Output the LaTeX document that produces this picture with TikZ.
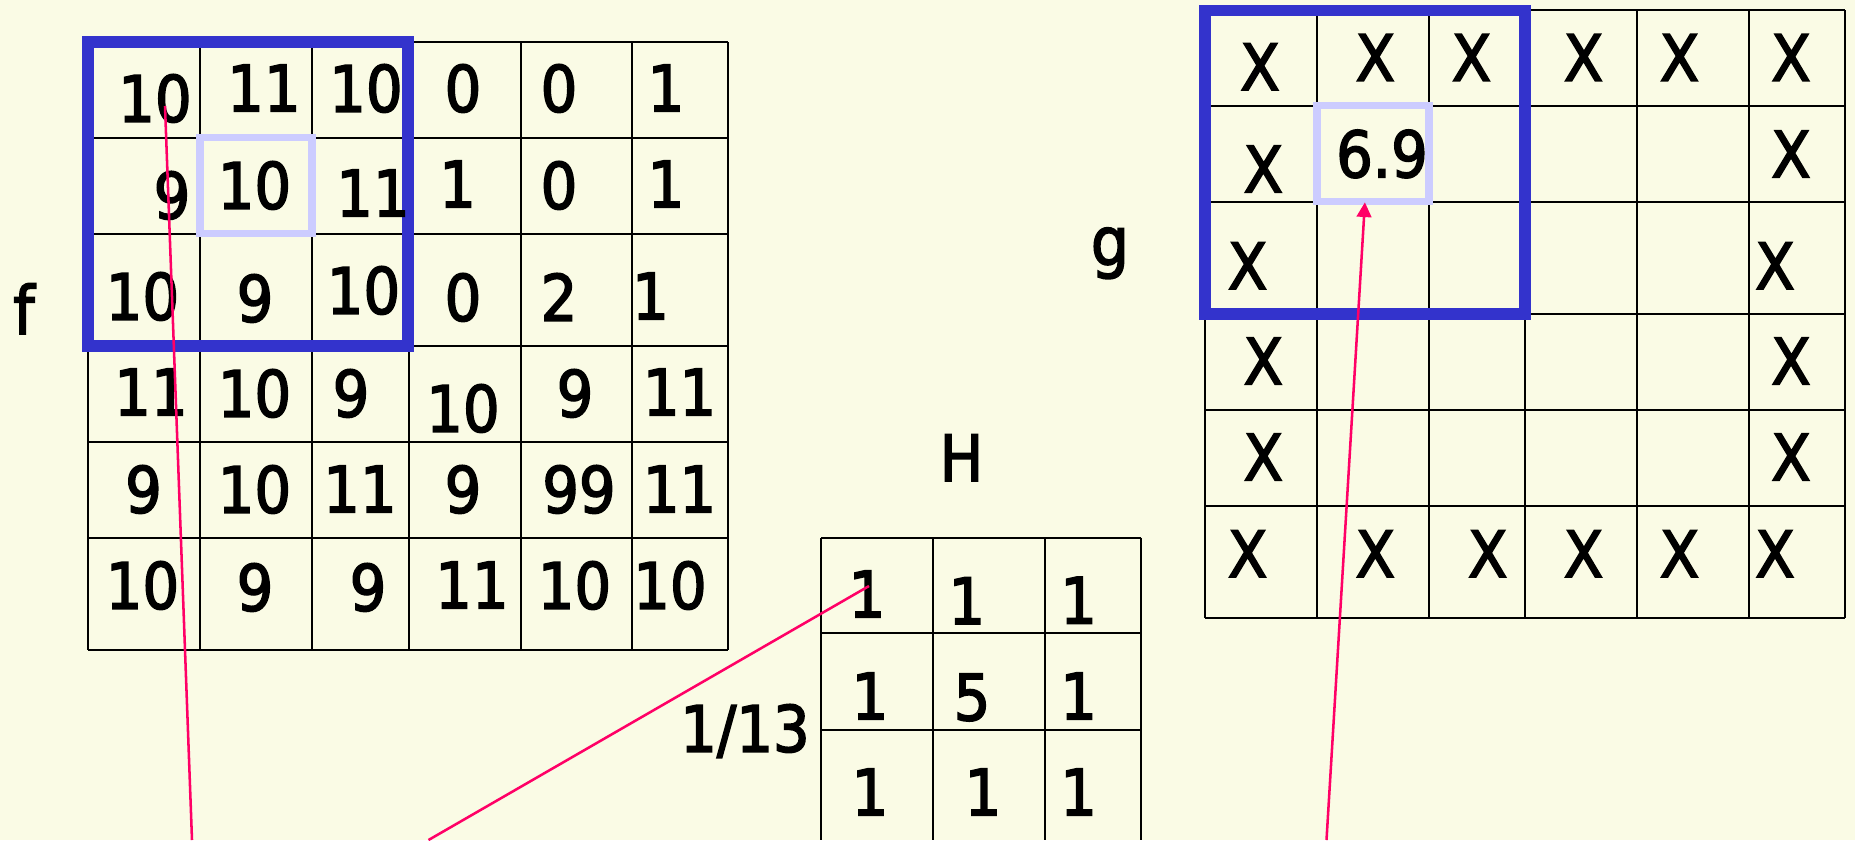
\documentclass[tikz,border=0pt]{standalone}
\usepackage{fontspec}
\setmainfont{DejaVu Sans}[FakeStretch=0.9,FakeBold=2.5]
\usetikzlibrary{arrows.meta}
\definecolor{bgy}{RGB}{250,251,229}
\definecolor{selblue}{RGB}{51,51,204}
\definecolor{lav}{RGB}{204,204,255}
\definecolor{pinkl}{RGB}{255,0,102}
\begin{document}
\begin{tikzpicture}[x=0.75pt,y=-0.75pt,
  cell/.style={font=\fontsize{48}{56}\selectfont, inner sep=0pt, text depth=0pt},
  lbl/.style={font=\fontsize{50}{56}\selectfont, inner sep=0pt},
  gridline/.style={line width=1.5pt, draw=black},
  selbox/.style={draw=selblue, line width=8.5pt},
  lavbox/.style={draw=lav, line width=5.5pt, outer sep=0pt, inner sep=0pt,
                 minimum width=84pt, minimum height=72pt},
  pinkline/.style={draw=pinkl, line width=1.9pt},
  pinkarrow/.style={pinkline, -{Triangle[length=11pt,width=11pt]}}]
\useasboundingbox (0,0) rectangle (1855,840);
\fill[bgy] (0,0) rectangle (1855,840);

% ---------- grid f ----------
\foreach \x in {88,200,312,408.5,520.5,632,728}
  \draw[gridline] (\x,42) -- (\x,649.5);
\foreach \y in {42,137.5,233.5,346,442,538,649.5}
  \draw[gridline] (88,\y) -- (728,\y);

% ---------- grid g ----------
\foreach \x in {1205,1317,1429,1525,1637,1749,1845}
  \draw[gridline] (\x,10.2) -- (\x,617.6);
\foreach \y in {10.2,105.7,201.6,313.9,409.8,505.7,617.6}
  \draw[gridline] (1205,\y) -- (1845,\y);

% ---------- grid H ----------
\foreach \x in {821.4,932.9,1045,1141}
  \draw[gridline] (\x,537.7) -- (\x,840);
\foreach \y in {537.7,633.3,730}
  \draw[gridline] (821.4,\y) -- (1141,\y);

% ---------- selection boxes ----------
\draw[selbox] (88,42) rectangle (408,346);
\draw[selbox] (1205,10.2) rectangle (1525,313.9);
\node[lavbox] (fsel) at (256,185.5) {};
\node[lavbox] (gsel) at (1372.9,153.65) {};

% ---------- labels ----------
\node[lbl, anchor=base] (flab) at (24,334) {f};
\node[lbl, anchor=base] (glab) at (1110,265) {g};
\node[cell] (hlab) at (961.5,457.7) {H};
\node[cell] (norm) at (745,728) {1/13};

% ---------- f values ----------
\node[cell] (f11) at (155,98) {10};
\node[cell] (f12) at (264,88) {11};
\node[cell] (f13) at (366,88) {10};
\node[cell] (f14) at (463,88) {0};
\node[cell] (f15) at (559,88) {0};
\node[cell] (f16) at (666,88) {1};
\node[cell] (f21) at (172,195) {9};
\node[cell] (f22) at (254.5,185) {10};
\node[cell] (f23) at (373,193) {11};
\node[cell] (f24) at (457.6,184) {1};
\node[cell] (f25) at (559,185) {0};
\node[cell] (f26) at (666,184) {1};
\node[cell] (f31) at (142.5,296) {10};
\node[cell] (f32) at (255,298) {9};
\node[cell] (f33) at (363.5,290) {10};
\node[cell] (f34) at (463,297) {0};
\node[cell] (f35) at (559,297) {2};
\node[cell] (f36) at (650.5,296) {1};
\node[cell] (f41) at (151,392) {11};
\node[cell] (f42) at (254.5,393) {10};
\node[cell] (f43) at (351,393) {9};
\node[cell] (f44) at (463,408) {10};
\node[cell] (f45) at (575,393) {9};
\node[cell] (f46) at (679.6,392) {11};
\node[cell] (f51) at (143.5,489) {9};
\node[cell] (f52) at (254.5,489) {10};
\node[cell] (f53) at (360,489) {11};
\node[cell] (f54) at (463,489) {9};
\node[cell] (f55) at (579,489) {99};
\node[cell] (f56) at (679.6,489) {11};
\node[cell] (f61) at (142.5,585) {10};
\node[cell] (f62) at (255,587) {9};
\node[cell] (f63) at (368,587) {9};
\node[cell] (f64) at (472,585) {11};
\node[cell] (f65) at (574.5,585) {10};
\node[cell] (f66) at (670,585) {10};

% ---------- g values ----------
\node[cell] (g11) at (1260,66.7) {X};
\node[cell] (g12) at (1375.3,57.6) {X};
\node[cell] (g13) at (1471.5,57.6) {X};
\node[cell] (g14) at (1583.5,57.6) {X};
\node[cell] (g15) at (1679.5,57.6) {X};
\node[cell] (g16) at (1791,57.6) {X};
\node[cell] (g21) at (1263.3,169) {X};
\node[cell] (g22) at (1382,153.5) {6.9};
\node[cell] (g26) at (1791,154) {X};
\node[cell] (g31) at (1247.6,265.7) {X};
\node[cell] (g36) at (1775,265.7) {X};
\node[cell] (g41) at (1263.3,361) {X};
\node[cell] (g46) at (1791,361) {X};
\node[cell] (g51) at (1263.3,457) {X};
\node[cell] (g56) at (1791,457) {X};
\node[cell] (g61) at (1247.6,553.7) {X};
\node[cell] (g62) at (1375.3,553.7) {X};
\node[cell] (g63) at (1487.7,553.7) {X};
\node[cell] (g64) at (1583.5,553.7) {X};
\node[cell] (g65) at (1679.5,553.7) {X};
\node[cell] (g66) at (1775,553.7) {X};

% ---------- H values ----------
\node[cell] (h11) at (867,594) {1};
\node[cell] (h12) at (966.8,600.7) {1};
\node[cell] (h13) at (1078.6,600.3) {1};
\node[cell] (h21) at (870,696) {1};
\node[cell] (h22) at (972,697) {5};
\node[cell] (h23) at (1078.6,696) {1};
\node[cell] (h31) at (870,792) {1};
\node[cell] (h32) at (983,792) {1};
\node[cell] (h33) at (1078.6,792) {1};

% ---------- connectors ----------
\coordinate (fend) at (192,840);
\coordinate (hend) at (428.5,840);
\coordinate (gstart) at (1326.5,840);
\draw[pinkline] ([shift={(10,8)}]f11.center) -- (fend);
\draw[pinkline] ([shift={(2,-8)}]h11.center) -- (hend);
\draw[pinkarrow] (gstart) -- ([shift={(-8,0.7)}]gsel.south);
\end{tikzpicture}
\end{document}
